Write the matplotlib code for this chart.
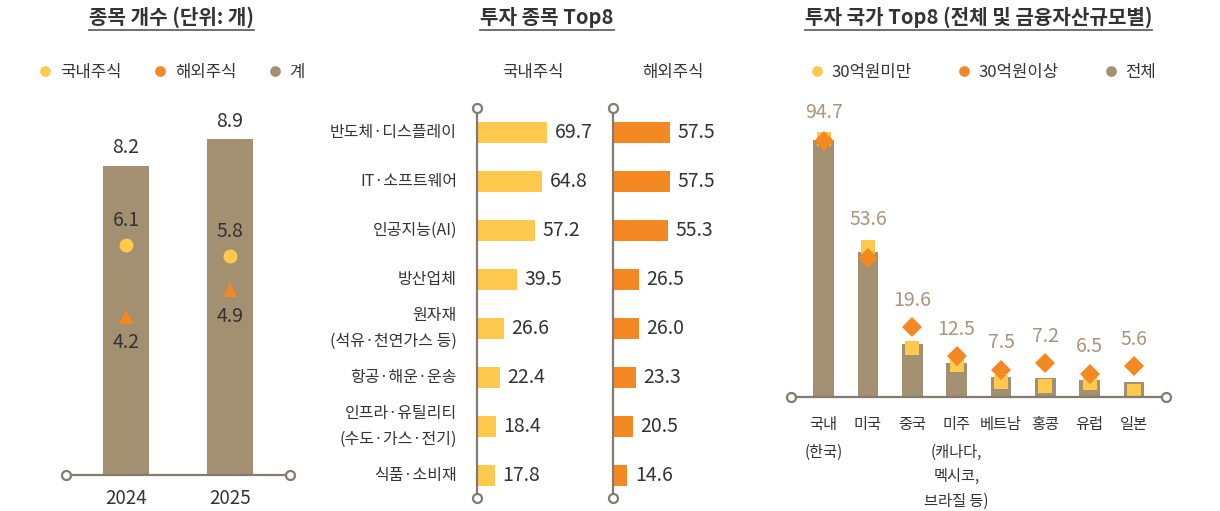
import matplotlib
matplotlib.use('Agg')
import matplotlib.pyplot as plt
from matplotlib import font_manager
from matplotlib.lines import Line2D

W, H = 1220, 511

KR = 'Noto Sans CJK KR'
installed = {f.name for f in font_manager.fontManager.ttflist}
NUM = 'Liberation Sans Narrow' if 'Liberation Sans Narrow' in installed else KR
plt.rcParams['font.family'] = [KR, 'DejaVu Sans']

# 종목 개수
years = ['2024', '2025']
count_total = [8.2, 8.9]
count_domestic = [6.1, 5.8]
count_overseas = [4.2, 4.9]

# 투자 종목 Top8
sectors = ['반도체·디스플레이', 'IT·소프트웨어', '인공지능(AI)', '방산업체',
           '원자재\n(석유·천연가스 등)', '항공·해운·운송',
           '인프라·유틸리티\n(수도·가스·전기)', '식품·소비재']
sector_domestic = [69.7, 64.8, 57.2, 39.5, 26.6, 22.4, 18.4, 17.8]
sector_overseas = [57.5, 57.5, 55.3, 26.5, 26.0, 23.3, 20.5, 14.6]

# 투자 국가 Top8
countries = ['국내\n(한국)', '미국', '중국', '미주\n(캐나다,\n멕시코,\n브라질 등)',
             '베트남', '홍콩', '유럽', '일본']
country_total = [94.7, 53.6, 19.6, 12.5, 7.5, 7.2, 6.5, 5.6]
country_small = [95.0, 55.5, 18.1, 11.9, 5.7, 4.2, 5.2, 2.3]    # 30억원미만
country_large = [94.3, 51.2, 25.8, 15.2, 10.1, 12.5, 8.6, 11.5]  # 30억원이상

YEL = '#FFC94D'
ORG = '#F48823'
TAN = '#A39070'
AXC = '#857A70'
TXT = '#333333'
LBL = '#A8957B'
PT = 72 / 100  # pixels -> points


def px_axes(left, top, right, bottom):
    ax = fig.add_axes([left / W, 1 - bottom / H, (right - left) / W, (bottom - top) / H])
    ax.axis('off')
    return ax


def axis_line(ax, xs, ys):
    ax.plot(xs, ys, color=AXC, lw=1.6, marker='o', ms=6.5, mfc='white',
            mec=AXC, mew=1.6, clip_on=False, zorder=5)


fig = plt.figure(figsize=(W / 100, H / 100), dpi=100)

titles = []
for x, s in [(171.5, '종목 개수 (단위: 개)'), (547, '투자 종목 Top8'),
             (978.5, '투자 국가 Top8 (전체 및 금융자산규모별)')]:
    titles.append(fig.text(x / W, 1 - 17 / H, s, ha='center', va='center',
                           fontsize=14.5, fontweight='bold', color=TXT))

# ---- panel 1: 종목 개수
ax1 = px_axes(66, 100, 290, 475)
ax1.set_xlim(-0.577, 1.577)
ax1.set_ylim(0, 375 / 37.7)
xs = range(len(years))
ax1.bar(xs, count_total, width=0.433, color=TAN, zorder=2)
ax1.plot(xs, count_domestic, 'o', ms=10, color=YEL, mew=0, zorder=3)
ax1.plot(xs, count_overseas, '^', ms=9.5, color=ORG, mew=0, zorder=3)
axis_line(ax1, ax1.get_xlim(), [0, 0])
for i in xs:
    ax1.annotate(f'{count_total[i]}', (i, count_total[i]), xytext=(0, 18 * PT),
                 textcoords='offset points', ha='center', va='center',
                 fontsize=14, family=NUM, color=TXT)
    ax1.annotate(f'{count_domestic[i]}', (i, count_domestic[i]), xytext=(0, 25 * PT),
                 textcoords='offset points', ha='center', va='center',
                 fontsize=14, family=NUM, color=TXT)
    ax1.annotate(f'{count_overseas[i]}', (i, count_overseas[i]), xytext=(0, -26 * PT),
                 textcoords='offset points', ha='center', va='center',
                 fontsize=14, family=NUM, color=TXT)
    ax1.annotate(years[i], (i, 0), xytext=(0, -23.5 * PT), textcoords='offset points',
                 ha='center', va='center', fontsize=13.5, family=NUM, color=TXT)

fig.legend([Line2D([], [], ls='', marker='o', ms=7.7, mew=0, color=c) for c in (YEL, ORG, TAN)],
           ['국내주식', '해외주식', '계'], loc='center left',
           bbox_to_anchor=(38.3 / W, 1 - 72 / H), bbox_transform=fig.transFigure,
           ncol=3, frameon=False, fontsize=12, handlelength=0.8, handletextpad=0.5,
           columnspacing=1.9, borderpad=0, borderaxespad=0, labelcolor=TXT)

# ---- panel 2: 투자 종목 Top8
rows = range(len(sectors))
axd = px_axes(477, 108, 600, 498)
axo = px_axes(612.7, 108, 735, 498)
for ax, vals, col in [(axd, sector_domestic, YEL), (axo, sector_overseas, ORG)]:
    ax.set_xlim(0, 122.3)
    ax.set_ylim(7.459, -0.5)
    ax.barh(rows, vals, height=0.443, color=col, zorder=2)
    axis_line(ax, [0, 0], ax.get_ylim())
    for i in rows:
        ax.annotate(f'{vals[i]:.1f}', (vals[i], i), xytext=(7.5 * PT, 0),
                    textcoords='offset points', ha='left', va='center',
                    fontsize=14, family=NUM, color=TXT)
for i in rows:
    axd.annotate(sectors[i], (0, i), xytext=(-20 * PT, 0), textcoords='offset points',
                 ha='right', va='center', fontsize=11.5, color=TXT, linespacing=1.7)
fig.text(533 / W, 1 - 73 / H, '국내주식', ha='center', va='center', fontsize=12, color=TXT)
fig.text(672.5 / W, 1 - 73 / H, '해외주식', ha='center', va='center', fontsize=12, color=TXT)

# ---- panel 3: 투자 국가 Top8
axc = px_axes(790.7, 100, 1166, 397.3)
axc.set_xlim(-0.743, 7.72)
axc.set_ylim(0, 297.3 / 2.714)
cx = range(len(countries))
axc.bar(cx, country_total, width=0.466, color=TAN, zorder=2)
axc.plot(cx, country_small, 's', ms=10, color=YEL, mew=0, zorder=3)
axc.plot(cx, country_large, 'D', ms=9.7, color=ORG, mew=0, zorder=4)
axis_line(axc, axc.get_xlim(), [0, 0])
for i in cx:
    top = max(country_small[i], country_large[i])
    axc.annotate(f'{country_total[i]}', (i, top), xytext=(0, 27 * PT),
                 textcoords='offset points', ha='center', va='center',
                 fontsize=14, family=NUM, color=LBL)
    # first line on its own, any bracketed note stacked underneath
    first, _, rest = countries[i].partition('\n')
    axc.annotate(first, (i, 0), xytext=(0, -27 * PT), textcoords='offset points',
                 ha='center', va='center', fontsize=11, color=TXT)
    if rest:
        axc.annotate(rest, (i, 0), xytext=(0, -47 * PT), textcoords='offset points',
                     ha='center', va='top', fontsize=11, color=TXT, linespacing=1.55)

fig.legend([Line2D([], [], ls='', marker='o', ms=7.7, mew=0, color=c) for c in (YEL, ORG, TAN)],
           ['30억원미만', '30억원이상', '전체'], loc='center left',
           bbox_to_anchor=(810.3 / W, 1 - 72 / H), bbox_transform=fig.transFigure,
           ncol=3, frameon=False, fontsize=12, handlelength=0.8, handletextpad=0.5,
           columnspacing=2.7, borderpad=0, borderaxespad=0, labelcolor=TXT)

# title underlines follow the rendered text width
fig.canvas.draw()
renderer = fig.canvas.get_renderer()
for t in titles:
    bb = t.get_window_extent(renderer)
    fig.add_artist(Line2D([bb.x0 / W, bb.x1 / W], [1 - 30.5 / H] * 2,
                          transform=fig.transFigure, color='#6E6259', lw=1.3))

fig.savefig('out.png', dpi=100)
